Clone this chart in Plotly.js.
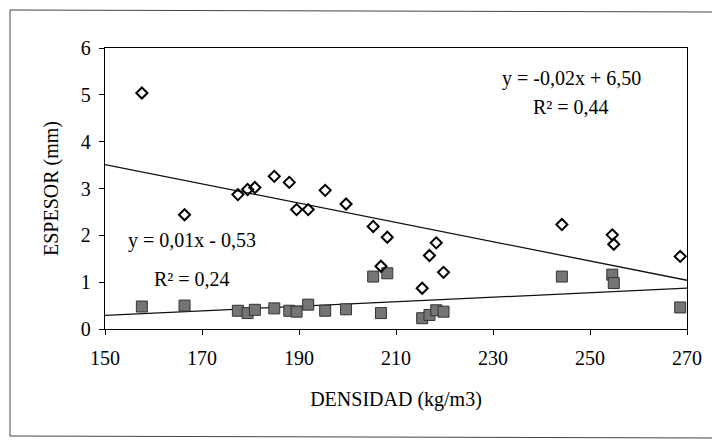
<!DOCTYPE html>
<html>
<head>
<meta charset="utf-8">
<script src="https://cdn.plot.ly/plotly-3.0.1.min.js"></script>
<style>html,body{margin:0;padding:0;background:#fff;overflow:hidden;}#chart{width:727px;height:442px;}</style>
</head>
<body>
<div id="chart"></div>
<script>
// Data
const densidad = [157.6,166.4,177.4,179.4,180.9,184.9,188.0,189.5,191.9,195.4,199.7,205.3,208.2,206.9,215.4,216.9,218.3,219.8,244.2,254.6,254.9,268.6];
const espesorRombos = [5.04,2.44,2.87,2.98,3.02,3.26,3.13,2.55,2.55,2.96,2.67,2.19,1.96,1.34,0.87,1.57,1.84,1.21,2.23,2.01,1.81,1.55];
const espesorCuadros = [0.48,0.50,0.39,0.34,0.41,0.44,0.39,0.37,0.52,0.39,0.42,1.12,1.19,0.34,0.23,0.30,0.40,0.37,1.12,1.16,0.98,0.46];
const ecuacionRombos = ["y = -0,02x + 6,50", "R² = 0,44"];
const ecuacionCuadros = ["y = 0,01x - 0,53", "R² = 0,24"];
const xTicks = [150,170,190,210,230,250,270];
const yTicks = [0,1,2,3,4,5,6];
const xRange = [150,270];

function linreg(xs, ys){
  const n = xs.length;
  const mx = xs.reduce((a,b)=>a+b,0)/n, my = ys.reduce((a,b)=>a+b,0)/n;
  let sxy=0, sxx=0;
  for(let i=0;i<n;i++){ sxy+=(xs[i]-mx)*(ys[i]-my); sxx+=(xs[i]-mx)*(xs[i]-mx); }
  const m = sxy/sxx; return {m:m, b:my-m*mx};
}
const rA = linreg(densidad, espesorRombos);
const rB = linreg(densidad, espesorCuadros);

const FONT = "Liberation Serif";
const traces = [
  {x: xRange, y: xRange.map(v=>rA.m*v+rA.b), mode:'lines', line:{color:'#111', width:1.3}, hoverinfo:'skip', showlegend:false},
  {x: xRange, y: xRange.map(v=>rB.m*v+rB.b), mode:'lines', line:{color:'#111', width:1.3}, hoverinfo:'skip', showlegend:false},
  {x: densidad, y: espesorCuadros, mode:'markers', type:'scatter',
   marker:{symbol:'square', size:11, color:'#757575', line:{color:'#333', width:1}}, showlegend:false},
  {x: densidad, y: espesorRombos, mode:'markers', type:'scatter',
   marker:{symbol:'diamond-open', size:8.5, color:'#000', line:{color:'#000', width:2}}, showlegend:false}
];

const L=105, R=40, T=48, B=113, W=727, H=442;
const pw = W-L-R, ph = H-T-B;
const px = v => (v-L)/pw;
const py = v => (H-B-v)/ph;
const frame = {color:'#444', width:1};

const layout = {
  width: W, height: H,
  margin: {l:L, r:R, t:T, b:B, pad:0},
  paper_bgcolor:'#fff', plot_bgcolor:'#fff',
  font: {family: FONT, size: 20, color:'#000'},
  xaxis: {
    range: xRange, tickvals: xTicks, ticktext: xTicks.map(String),
    showgrid:false, zeroline:false, showline:true, linecolor:'#000', linewidth:1.2, mirror:true,
    ticks:'outside', ticklen:5, tickcolor:'#000', tickwidth:1, ticklabelstandoff:6,
    tickfont:{family:FONT, size:20, color:'#000'},
    title:{text:'DENSIDAD (kg/m3)', font:{family:FONT, size:20, color:'#000'}, standoff:23}
  },
  yaxis: {
    range: [0,6], tickvals: yTicks, ticktext: yTicks.map(String),
    showgrid:false, zeroline:false, showline:true, linecolor:'#000', linewidth:1.2, mirror:true,
    ticks:'outside', ticklen:5, tickcolor:'#000', tickwidth:1, ticklabelstandoff:4,
    tickfont:{family:FONT, size:20, color:'#000'},
    title:{text:'ESPESOR (mm)', font:{family:FONT, size:20, color:'#000'}, standoff:16}
  },
  annotations: [
    {x:246.1, y:5.34, xref:'x', yref:'y', text:ecuacionRombos[0], showarrow:false, xanchor:'center', yanchor:'middle', font:{family:FONT, size:20, color:'#000'}},
    {x:246.0, y:4.74, xref:'x', yref:'y', text:ecuacionRombos[1], showarrow:false, xanchor:'center', yanchor:'middle', font:{family:FONT, size:20, color:'#000'}},
    {x:167.9, y:1.88, xref:'x', yref:'y', text:ecuacionCuadros[0], showarrow:false, xanchor:'center', yanchor:'middle', font:{family:FONT, size:20, color:'#000'}},
    {x:168.0, y:1.07, xref:'x', yref:'y', text:ecuacionCuadros[1], showarrow:false, xanchor:'center', yanchor:'middle', font:{family:FONT, size:20, color:'#000'}}
  ],
  shapes: [
    {type:'line', xref:'paper', yref:'paper', x0:px(10), x1:px(10), y0:py(436), y1:py(10), line:frame},
    {type:'line', xref:'paper', yref:'paper', x0:px(10), x1:px(712), y0:py(10), y1:py(12), line:frame},
    {type:'line', xref:'paper', yref:'paper', x0:px(10), x1:px(712), y0:py(436), y1:py(438), line:frame}
  ]
};

Plotly.newPlot('chart', traces, layout, {staticPlot:true, displayModeBar:false});
</script>
</body>
</html>
